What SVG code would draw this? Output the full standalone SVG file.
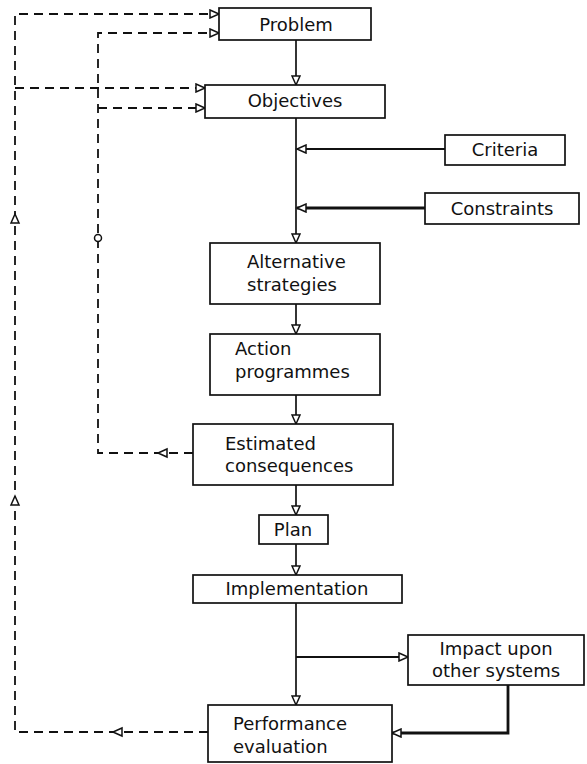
<svg xmlns="http://www.w3.org/2000/svg" width="587" height="764" viewBox="0 0 587 764">
<style>
.box{fill:#fff;stroke:#111;stroke-width:1.7}
.t{font-family:"DejaVu Sans","Liberation Sans",sans-serif;font-size:18px;fill:#111}
.c{text-anchor:middle}
.ln{fill:none;stroke:#111;stroke-width:1.7}
.mid{stroke-width:2.2}
.thick{stroke-width:2.8}
.dash{fill:none;stroke:#111;stroke-width:1.8;stroke-dasharray:9 6}
.ah{fill:#fff;stroke:#111;stroke-width:1.5}
</style>
<defs>
<marker id="arr" markerUnits="userSpaceOnUse" markerWidth="12" markerHeight="10" refX="10" refY="5" orient="auto">
<path d="M1,1 L10,5 L1,9 Z" class="ah"/>
</marker>
<path id="ahd" d="M0,0 L-9,-4 L-9,4 Z" class="ah"/>
</defs>
<rect width="587" height="764" fill="#fff"/>
<g id="connectors">
<path class="ln" d="M296,40 V85" marker-end="url(#arr)"/>
<path class="ln" d="M296,118 V243" marker-end="url(#arr)"/>
<path class="ln mid" d="M445,149 H297" marker-end="url(#arr)"/>
<path class="ln thick" d="M425,208 H297" marker-end="url(#arr)"/>
<path class="ln" d="M296,304 V334" marker-end="url(#arr)"/>
<path class="ln" d="M296,395 V424" marker-end="url(#arr)"/>
<path class="ln" d="M296,485 V515" marker-end="url(#arr)"/>
<path class="ln" d="M296,544 V575" marker-end="url(#arr)"/>
<path class="ln" d="M296,603 V705" marker-end="url(#arr)"/>
<path class="ln mid" d="M296,657 H408" marker-end="url(#arr)"/>
<path class="ln thick" d="M508,685 V733 H392" marker-end="url(#arr)"/>
<path class="dash" d="M208,732 H15 V14 H219" marker-end="url(#arr)"/>
<path class="dash" d="M15,88 H205" marker-end="url(#arr)"/>
<path class="dash" d="M193,453 H98 V33 H219" marker-end="url(#arr)"/>
<path class="dash" d="M98,108 H205" marker-end="url(#arr)"/>
<use href="#ahd" transform="translate(113,732) rotate(180)"/>
<use href="#ahd" transform="translate(15,496) rotate(-90)"/>
<use href="#ahd" transform="translate(15,214) rotate(-90)"/>
<use href="#ahd" transform="translate(158,453) rotate(180)"/>
<circle cx="98" cy="238" r="3.5" class="ah"/>
</g>
<g id="problem"><rect class="box" x="219" y="8" width="152" height="32"/><text class="t c" x="296" y="31">Problem</text></g>
<g id="objectives"><rect class="box" x="205" y="85" width="180" height="33"/><text class="t c" x="295" y="107">Objectives</text></g>
<g id="criteria"><rect class="box" x="445" y="135" width="120" height="30"/><text class="t c" x="505" y="156">Criteria</text></g>
<g id="constraints"><rect class="box" x="425" y="193" width="154" height="31"/><text class="t c" x="502" y="215">Constraints</text></g>
<g id="alternative"><rect class="box" x="210" y="243" width="170" height="61"/><text class="t" x="247" y="268">Alternative</text><text class="t" x="247" y="291">strategies</text></g>
<g id="action"><rect class="box" x="210" y="334" width="170" height="61"/><text class="t" x="235" y="355">Action</text><text class="t" x="235" y="378">programmes</text></g>
<g id="estimated"><rect class="box" x="193" y="424" width="200" height="61"/><text class="t" x="225" y="450">Estimated</text><text class="t" x="225" y="472">consequences</text></g>
<g id="plan"><rect class="box" x="259" y="515" width="69" height="29"/><text class="t c" x="293" y="536">Plan</text></g>
<g id="implementation"><rect class="box" x="193" y="575" width="209" height="28"/><text class="t c" x="297" y="595">Implementation</text></g>
<g id="impact"><rect class="box" x="408" y="635" width="176" height="50"/><text class="t c" x="496" y="655">Impact upon</text><text class="t c" x="496" y="677">other systems</text></g>
<g id="performance"><rect class="box" x="208" y="705" width="184" height="57"/><text class="t" x="233" y="730">Performance</text><text class="t" x="233" y="753">evaluation</text></g>
</svg>
